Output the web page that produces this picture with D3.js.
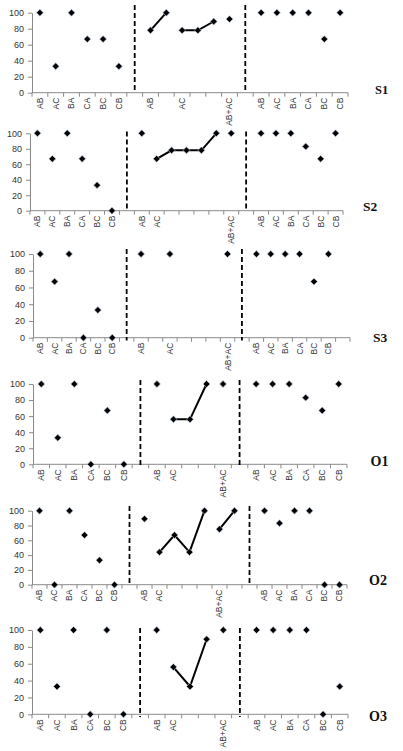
<!DOCTYPE html>
<html>
<head>
<meta charset="utf-8">
<script src="https://cdn.jsdelivr.net/npm/d3@7"></script>
<style>
  body { margin: 0; background: #fff; }
  .tick text, .cat { font-family: "Liberation Sans", Arial, sans-serif; fill: #333; }
  .panel-name { font-family: "Liberation Serif", "Times New Roman", serif; font-weight: bold; fill: #111; }
</style>
</head>
<body>
<script>
// chart values
var panelNames = ["S1", "S2", "S3", "O1", "O2", "O3"];
var sideCats = ["AB", "AC", "BA", "CA", "BC", "CB"];
var yTicks = [0, 20, 40, 60, 80, 100];

var leftValues = [
    [100, 33, 100, 67, 67, 33],
    [100, 67, 100, 67, 33, 0],
    [100, 67, 100, 0, 33, 0],
    [100, 33, 100, 0, 67, 0],
    [100, 0, 100, 67, 33, 0],
    [100, 33, 100, 0, 100, 0]
];

var rightValues = [
    [100, 100, 100, 100, 67, 100],
    [100, 100, 100, 83, 67, 100],
    [100, 100, 100, 100, 67, 100],
    [100, 100, 100, 83, 67, 100],
    [100, 83, 100, 100, 0, 0],
    [100, 100, 100, 100, 0, 33]
];

// middle block: each run is a group of joined points (null = empty slot)
var midRuns = [
    [[78, 100], [78, 78, 89], [92]],
    [[100], [67, 78, 78, 78, 100], [100]],
    [[100], [null], [100], [null], [null], [null], [100]],
    [[100], [56, 56, 100], [100]],
    [[89], [44, 67, 44, 100], [75, 100]],
    [[100], [56, 33, 89], [100]]
];

var midLabels = [
    ["AB", "", "AC", "", "", "AB+AC"],
    ["AB", "AC", "", "", "", "", "AB+AC"],
    ["AB", "", "AC", "", "", "", "AB+AC"],
    ["AB", "AC", "", "", "AB+AC"],
    ["AB", "AC", "", "", "", "AB+AC", ""],
    ["AB", "AC", "", "", "AB+AC"]
];

var tailBlanks = [0, 0, 1, 0, 0, 0];

// where each small chart sits on the page
var frames = [
    {x0: 32, x1: 348, top: 12.7, bot: 92.7, dash: [5, 93], lx: 375, ly: 94.3, fs: 12.5},
    {x0: 30, x1: 343, top: 133.3, bot: 210.7, dash: [131.5, 209], lx: 363, ly: 210.7, fs: 13.5},
    {x0: 33, x1: 350, top: 254, bot: 337.7, dash: [249, 340.5], lx: 373, ly: 342, fs: 13.5},
    {x0: 33, x1: 347, top: 384, bot: 464.3, dash: [380, 468], lx: 370.5, ly: 466, fs: 14},
    {x0: 32, x1: 347, top: 510.7, bot: 584.7, dash: [506, 585], lx: 369, ly: 585, fs: 14},
    {x0: 32, x1: 348, top: 630, bot: 714.3, dash: [628, 717], lx: 369, ly: 721, fs: 14}
];

var svg = d3.select("body").append("svg")
    .attr("width", 403)
    .attr("height", 751);

var diamond = d3.symbol().type(d3.symbolSquare).size(24);

panelNames.forEach(function(name, p) {
    var f = frames[p];
    var cats = [];
    var gaps = [];

    sideCats.forEach(function(c, i) {
        cats.push({label: c, v: leftValues[p][i]});
    });
    gaps.push(cats.length);
    cats.push({label: "", v: null});

    var runs = [];
    var k = 0;
    midRuns[p].forEach(function(run) {
        var idx = [];
        run.forEach(function(v) {
            idx.push(cats.length);
            cats.push({label: midLabels[p][k++], v: v});
        });
        runs.push(idx);
    });
    gaps.push(cats.length);
    cats.push({label: "", v: null});

    sideCats.forEach(function(c, i) {
        cats.push({label: c, v: rightValues[p][i]});
    });
    for (var t = 0; t < tailBlanks[p]; t++) cats.push({label: "", v: null});

    var x = d3.scaleBand()
        .domain(d3.range(cats.length))
        .range([f.x0, f.x1])
        .padding(0);

    var y = d3.scaleLinear()
        .domain([0, 100])
        .range([f.bot, f.top]);

    var g = svg.append("g").attr("class", "panel");

    // y axis
    var yAxis = d3.axisLeft(y)
        .tickValues(yTicks)
        .tickSize(4)
        .tickSizeOuter(0)
        .tickPadding(4);

    var ya = g.append("g")
        .attr("transform", "translate(" + f.x0 + ",0)")
        .call(yAxis);
    ya.select(".domain").attr("stroke", "#8a8a8a");
    ya.selectAll(".tick line").attr("stroke", "#8a8a8a");
    ya.selectAll(".tick text").style("font-size", "9px").attr("fill", "#333");

    // x axis with ticks on category boundaries
    var bw = x.bandwidth();
    g.append("line")
        .attr("x1", f.x0).attr("x2", f.x1)
        .attr("y1", f.bot).attr("y2", f.bot)
        .attr("stroke", "#8a8a8a");

    g.selectAll(".xtick")
        .data(d3.range(cats.length + 1))
        .enter().append("line")
        .attr("class", "xtick")
        .attr("x1", function(i) { return i < cats.length ? x(i) : f.x1; })
        .attr("x2", function(i) { return i < cats.length ? x(i) : f.x1; })
        .attr("y1", f.bot)
        .attr("y2", f.bot + 4)
        .attr("stroke", "#8a8a8a");

    g.selectAll(".cat")
        .data(cats.map(function(c, i) { return {label: c.label, i: i}; })
            .filter(function(c) { return c.label; }))
        .enter().append("text")
        .attr("class", "cat")
        .attr("transform", function(c) {
            return "translate(" + (x(c.i) + bw / 2) + "," + (f.bot + 5) + ") rotate(-90)";
        })
        .attr("dy", "0.35em")
        .style("text-anchor", "end")
        .style("font-size", "8.5px")
        .text(function(c) { return c.label; });

    // dashed separators
    g.selectAll(".sep")
        .data(gaps)
        .enter().append("line")
        .attr("class", "sep")
        .attr("x1", function(i) { return x(i) + bw / 2; })
        .attr("x2", function(i) { return x(i) + bw / 2; })
        .attr("y1", f.dash[0])
        .attr("y2", f.dash[1])
        .attr("stroke", "#000")
        .attr("stroke-width", 1.8)
        .attr("stroke-dasharray", "5,3");

    // joined runs in the middle block
    var line = d3.line()
        .defined(function(i) { return cats[i].v != null; })
        .x(function(i) { return x(i) + bw / 2; })
        .y(function(i) { return y(cats[i].v); });

    g.selectAll(".run")
        .data(runs.filter(function(r) { return r.length > 1; }))
        .enter().append("path")
        .attr("class", "run")
        .attr("d", line)
        .attr("fill", "none")
        .attr("stroke", "#000")
        .attr("stroke-width", 2);

    // markers
    g.selectAll(".dot")
        .data(cats.map(function(c, i) { return {v: c.v, i: i}; })
            .filter(function(c) { return c.v != null; }))
        .enter().append("path")
        .attr("class", "dot")
        .attr("d", diamond)
        .attr("transform", function(c) {
            return "translate(" + (x(c.i) + bw / 2) + "," + y(c.v) + ") rotate(45)";
        })
        .attr("fill", "#000")
        .attr("stroke", "#b8c8e0")
        .attr("stroke-width", 0.6);

    g.append("text")
        .attr("class", "panel-name")
        .attr("x", f.lx)
        .attr("y", f.ly)
        .style("font-size", f.fs + "px")
        .text(name);
});
</script>
</body>
</html>
